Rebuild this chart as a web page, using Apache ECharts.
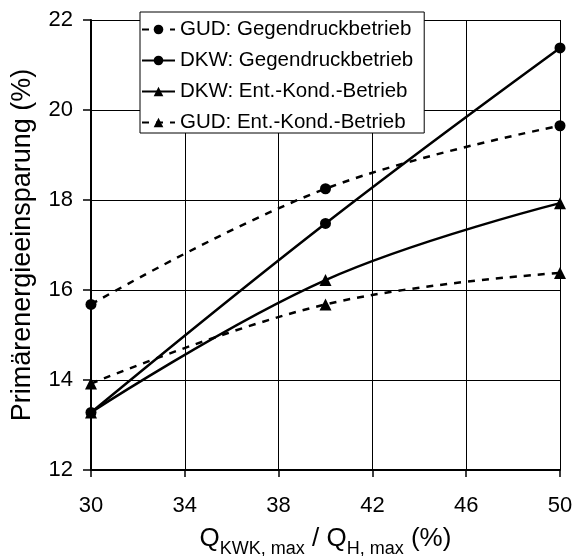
<!DOCTYPE html>
<html><head><meta charset="utf-8">
<script src="https://cdn.jsdelivr.net/npm/echarts@6/dist/echarts.min.js"></script>
<style>html,body{margin:0;padding:0;background:#fff}#c{width:573px;height:556px}</style>
</head><body><div id="c"></div>
<script>
const xValues = [30, 40, 50];
const gudGegendruck = [15.68, 18.25, 19.65];
const dkwGegendruck = [13.28, 17.48, 21.38];
const dkwEntKond = [13.28, 16.22, 17.93];
const gudEntKond = [13.92, 15.68, 16.38];
const seriesNames = ['GUD: Gegendruckbetrieb', 'DKW: Gegendruckbetrieb', 'DKW: Ent.-Kond.-Betrieb', 'GUD: Ent.-Kond.-Betrieb'];
const FONT = 'Liberation Sans, Arial, sans-serif';

function pts(arr){ return xValues.map((x,i)=>[x, arr[i]]); }
function mk(name, arr, dashed, sym){
  return {
    name, type:'line', data: pts(arr), smooth: 0.4,
    symbol: sym, symbolSize: sym==='circle'?11:12,
    itemStyle:{color:'#000'},
    lineStyle:{color:'#000', width:2.5, type: dashed?[7,7]:'solid'},
    z: 5
  };
}
const chart = echarts.init(document.getElementById('c'));
chart.setOption({
  animation:false,
  backgroundColor:'#fff',
  grid:{left:91, right:13, top:20, bottom:86, show:false, containLabel:false, outerBoundsMode:'none'},
  legend:{
    orient:'vertical', left:140, top:12,
    backgroundColor:'#fff', borderColor:'#000', borderWidth:1,
    padding:[7,11,0,1], itemGap:10, itemWidth:33, itemHeight:12,
    textStyle:{fontFamily:FONT, fontSize:20.5, color:'#000', lineHeight:19},
    data: seriesNames
  },
  xAxis:{
    type:'value', min:30, max:50, interval:4,
    name:'{n|Q}{s|KWK, max}{n| / Q}{s|H, max}{n| (%)}',
    nameLocation:'middle', nameGap:54,
    nameTextStyle:{rich:{
      n:{fontFamily:FONT, fontSize:26, color:'#000', verticalAlign:'bottom', lineHeight:28},
      s:{fontFamily:FONT, fontSize:18, color:'#000', verticalAlign:'bottom', lineHeight:18, padding:[0,0,-6,0]}
    }},
    axisLine:{lineStyle:{color:'#000', width:2}},
    axisTick:{show:true, inside:false, length:7, lineStyle:{color:'#000', width:1.5}},
    axisLabel:{fontFamily:FONT, fontSize:22, color:'#000', margin:25},
    splitLine:{show:true, lineStyle:{color:'#000', width:1}}
  },
  yAxis:{
    type:'value', min:12, max:22, interval:2,
    name:'Primärenergieeinsparung (%)', nameLocation:'middle', nameGap:55,
    nameTextStyle:{fontFamily:FONT, fontSize:27, color:'#000'},
    axisLine:{show:true, lineStyle:{color:'#000', width:2}},
    axisTick:{show:true, inside:false, length:8, lineStyle:{color:'#000', width:1.5}},
    axisLabel:{fontFamily:FONT, fontSize:22, color:'#000', margin:18},
    splitLine:{show:true, lineStyle:{color:'#000', width:1}}
  },
  series:[
    mk(seriesNames[0], gudGegendruck, true, 'circle'),
    mk(seriesNames[1], dkwGegendruck, false, 'circle'),
    mk(seriesNames[2], dkwEntKond, false, 'triangle'),
    mk(seriesNames[3], gudEntKond, true, 'triangle')
  ]
});
</script></body></html>
